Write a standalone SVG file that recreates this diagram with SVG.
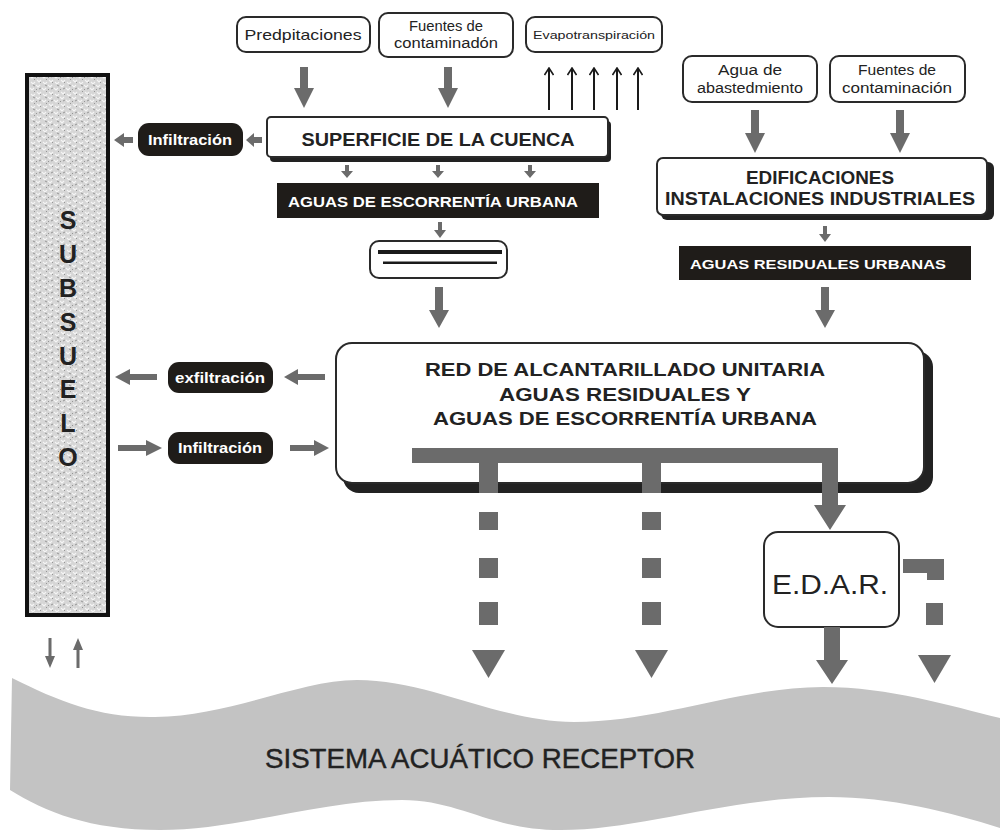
<svg xmlns="http://www.w3.org/2000/svg" width="1000" height="830" viewBox="0 0 1000 830">
<defs>
<pattern id="stipple" width="12" height="12" patternUnits="userSpaceOnUse">
<rect width="12" height="12" fill="#d6d6d6"/>
<path d="M0,1 l2,2 l2,-2 M6,4 l2,2 l2,-2 M1,8 l2,2 l2,-2 M7,10 l2,2 l2,-2" fill="none" stroke="#f5f5f5" stroke-width="1.1"/>
<path d="M3,5 l2,-1 M9,1 l2,1 M4,11 l1,-1 M10,7 l1,1 M0,6 l1,-1" fill="none" stroke="#8f8f8f" stroke-width="0.9"/>
</pattern>
<marker id="thinhead" viewBox="0 0 10 10" refX="9" refY="5" markerWidth="10" markerHeight="10" markerUnits="userSpaceOnUse" orient="auto">
<path d="M2,0.5 L9,5 L2,9.5" fill="none" stroke="#1a1a1a" stroke-width="1.6"/>
</marker>
</defs>
<style>
.box{fill:#fff;stroke:#2a2a2a;stroke-width:2}
.shadow{fill:#222}
.pill{fill:#1f1c19}
.dark{fill:#1f1c19}
.g{fill:#6b6b6b}
.t{font-family:"Liberation Sans",Arial,sans-serif;fill:#222;text-anchor:middle}
.b{font-weight:bold}
.w{fill:#fff}
.thin{stroke:#1a1a1a;stroke-width:2;fill:none}
</style>

<g id="receptor">
<path d="M12,678 C60,702 100,718 155,717 C230,716 300,680 357,680 C430,680 500,722 574,722 C660,722 740,687 823,687 C890,687 950,706 1000,718 L1000,828 C950,812 890,797 829,797 C730,797 640,830 561,830 C490,830 460,800 402,800 C320,800 240,830 160,830 C90,830 45,812 10,790 Z" fill="#c3c3c3"/>
<text class="t" x="480" y="768" font-size="28" textLength="430" lengthAdjust="spacingAndGlyphs" stroke="#222" stroke-width="0.4">SISTEMA ACUÁTICO RECEPTOR</text>
</g>

<g id="subsuelo">
<rect x="27" y="75" width="81" height="540" fill="url(#stipple)" stroke="#111" stroke-width="4"/>
<text class="t b" x="68" font-size="25" fill="#333">
<tspan x="68" y="229">S</tspan><tspan x="68" y="263">U</tspan><tspan x="68" y="297">B</tspan><tspan x="68" y="331">S</tspan><tspan x="68" y="365">U</tspan><tspan x="68" y="398">E</tspan><tspan x="68" y="432">L</tspan><tspan x="68" y="466">O</tspan>
</text>
</g>

<g id="predipitaciones">
<rect class="box" x="237" y="17" width="133" height="35" rx="9"/>
<text class="t" x="303" y="40" font-size="15" textLength="117" lengthAdjust="spacingAndGlyphs">Predpitaciones</text>
</g>
<g id="fuentes1">
<rect class="box" x="379" y="13" width="134" height="44" rx="9"/>
<text class="t" x="446" y="31" font-size="14" textLength="74" lengthAdjust="spacingAndGlyphs">Fuentes de</text>
<text class="t" x="446" y="48" font-size="14" textLength="104" lengthAdjust="spacingAndGlyphs">contaminadón</text>
</g>
<g id="evapo">
<rect class="box" x="526" y="17" width="136" height="35" rx="9"/>
<text class="t" x="594" y="39" font-size="11" textLength="122" lengthAdjust="spacingAndGlyphs">Evapotranspiración</text>
</g>

<g id="superficie">
<rect class="shadow" x="270" y="121" width="341" height="41" rx="4"/>
<rect class="box" x="267" y="117" width="341" height="40" rx="4"/>
<text class="t b" x="438" y="146" font-size="18" textLength="273" lengthAdjust="spacingAndGlyphs">SUPERFICIE DE LA CUENCA</text>
</g>

<g id="infiltracion1">
<rect class="pill" x="138" y="123" width="105" height="33" rx="11"/>
<text class="t b w" x="190" y="145" font-size="14" textLength="84" lengthAdjust="spacingAndGlyphs">Infiltración</text>
</g>

<g id="escorrentia">
<rect class="dark" x="277" y="183" width="322" height="35"/>
<text class="t b w" x="433" y="207" font-size="14" textLength="290" lengthAdjust="spacingAndGlyphs">AGUAS DE ESCORRENTÍA URBANA</text>
</g>

<g id="filtro">
<rect class="box" x="370" y="241" width="137" height="37" rx="9"/>
<rect x="378" y="250" width="124" height="4" fill="#1a1a1a"/>
<rect x="383" y="261.5" width="114" height="2.5" fill="#1a1a1a"/>
</g>

<g id="agua-abast">
<rect class="box" x="683" y="56" width="134" height="46" rx="9"/>
<text class="t" x="750" y="75" font-size="14" textLength="64" lengthAdjust="spacingAndGlyphs">Agua de</text>
<text class="t" x="750" y="93" font-size="14" textLength="106" lengthAdjust="spacingAndGlyphs">abastedmiento</text>
</g>
<g id="fuentes2">
<rect class="box" x="830" y="56" width="135" height="46" rx="9"/>
<text class="t" x="897" y="75" font-size="14" textLength="78" lengthAdjust="spacingAndGlyphs">Fuentes de</text>
<text class="t" x="897" y="93" font-size="14" textLength="110" lengthAdjust="spacingAndGlyphs">contaminación</text>
</g>

<g id="edificaciones">
<rect class="shadow" x="661" y="162" width="333" height="58" rx="6"/>
<rect class="box" x="657" y="158" width="330" height="57" rx="6"/>
<text class="t b" x="820" y="184" font-size="19" textLength="148" lengthAdjust="spacingAndGlyphs">EDIFICACIONES</text>
<text class="t b" x="820" y="205" font-size="19" textLength="310" lengthAdjust="spacingAndGlyphs">INSTALACIONES INDUSTRIALES</text>
</g>

<g id="residuales">
<rect class="dark" x="679" y="246" width="292" height="34"/>
<text class="t b w" x="818" y="269" font-size="13" textLength="256" lengthAdjust="spacingAndGlyphs">AGUAS RESIDUALES URBANAS</text>
</g>

<g id="red">
<rect class="shadow" x="343" y="351" width="590" height="142" rx="16"/>
<rect class="box" x="336" y="343" width="588" height="140" rx="16"/>
<text class="t b" x="625" y="376" font-size="18" textLength="400" lengthAdjust="spacingAndGlyphs">RED DE ALCANTARILLADO UNITARIA</text>
<text class="t b" x="625" y="401" font-size="18" textLength="252" lengthAdjust="spacingAndGlyphs">AGUAS RESIDUALES Y</text>
<text class="t b" x="625" y="425" font-size="18" textLength="384" lengthAdjust="spacingAndGlyphs">AGUAS DE ESCORRENTÍA URBANA</text>
</g>

<g id="exfiltracion">
<rect class="pill" x="168" y="362" width="105" height="31" rx="11"/>
<text class="t b w" x="220" y="383" font-size="14" textLength="90" lengthAdjust="spacingAndGlyphs">exfiltración</text>
</g>
<g id="infiltracion2">
<rect class="pill" x="168" y="432" width="105" height="32" rx="11"/>
<text class="t b w" x="220" y="453" font-size="14" textLength="84" lengthAdjust="spacingAndGlyphs">Infiltración</text>
</g>

<g id="edar">
<rect class="box" x="764" y="532" width="135" height="95" rx="14"/>
<text class="t" x="830" y="594" font-size="28" textLength="116" lengthAdjust="spacingAndGlyphs">E.D.A.R.</text>
</g>

<g id="connectors">
<polygon class="g" points="300,67 308,67 308,88 314,88 304,108 294,88 300,88"/>
<polygon class="g" points="444,67 452,67 452,88 458,88 448,108 438,88 444,88"/>
<line class="thin" x1="549" y1="110" x2="549" y2="68" marker-end="url(#thinhead)"/>
<line class="thin" x1="572" y1="110" x2="572" y2="68" marker-end="url(#thinhead)"/>
<line class="thin" x1="594" y1="110" x2="594" y2="68" marker-end="url(#thinhead)"/>
<line class="thin" x1="617" y1="110" x2="617" y2="68" marker-end="url(#thinhead)"/>
<line class="thin" x1="638" y1="110" x2="638" y2="68" marker-end="url(#thinhead)"/>
<polygon class="g" points="262,137 254,137 254,133 246,140 254,147 254,143 262,143"/>
<polygon class="g" points="133,137 124,137 124,133 114,140 124,147 124,143 133,143"/>
<polygon class="g" points="345,165 349,165 349,171 353,171 347,178 341,171 345,171"/>
<polygon class="g" points="436,165 440,165 440,171 444,171 438,178 432,171 436,171"/>
<polygon class="g" points="528,165 532,165 532,171 536,171 530,178 524,171 528,171"/>
<polygon class="g" points="438,222 442,222 442,230 446,230 440,238 434,230 438,230"/>
<polygon class="g" points="435,287 443,287 443,310 449,310 439,328 429,310 435,310"/>
<polygon class="g" points="751,110 759,110 759,133 765,133 755,153 745,133 751,133"/>
<polygon class="g" points="896,110 904,110 904,133 910,133 900,153 890,133 896,133"/>
<polygon class="g" points="823,226 827,226 827,234 831,234 825,242 819,234 823,234"/>
<polygon class="g" points="821,287 829,287 829,310 835,310 825,328 815,310 821,310"/>
<polygon class="g" points="325,374 298,374 298,369 284,377 298,385 298,380 325,380"/>
<polygon class="g" points="157,374 130,374 130,369 115,377 130,385 130,380 157,380"/>
<polygon class="g" points="118,445 146,445 146,440 162,448 146,456 146,451 118,451"/>
<polygon class="g" points="290,445 314,445 314,440 329,448 314,456 314,451 290,451"/>
<polygon class="g" points="412,448 838,448 838,505 846,505 830,530 814,505 822,505 822,463 661,463 661,493 642,493 642,463 498,463 498,493 479,493 479,463 412,463"/>
<rect class="g" x="479" y="512" width="19" height="18"/>
<rect class="g" x="479" y="558" width="19" height="20"/>
<rect class="g" x="479" y="602" width="19" height="23"/>
<polygon class="g" points="472,650 505,650 488.5,678"/>
<rect class="g" x="642" y="512" width="19" height="18"/>
<rect class="g" x="642" y="558" width="19" height="20"/>
<rect class="g" x="642" y="602" width="19" height="23"/>
<polygon class="g" points="635,650 668,650 651.5,678"/>
<polygon class="g" points="824,627 840,627 840,660 848,660 832,684 816,660 824,660"/>
<polygon class="g" points="903,559 944,559 944,580 927,580 927,573 903,573"/>
<rect class="g" x="926" y="603" width="17" height="22"/>
<polygon class="g" points="918,655 951,655 934.5,683"/>
<polygon class="g" points="48.5,638 51.5,638 51.5,656 55,656 50,668 45,656 48.5,656"/>
<polygon class="g" points="76.5,668 79.5,668 79.5,650 83,650 78,638 73,650 76.5,650"/>
</g>
</svg>
